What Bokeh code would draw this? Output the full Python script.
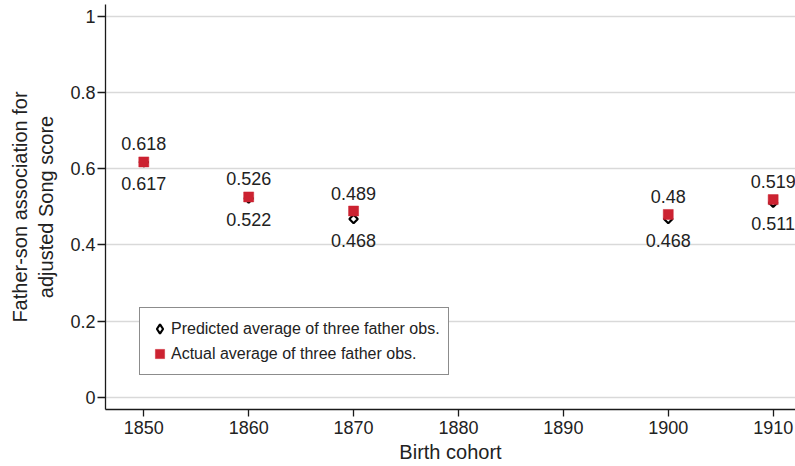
from bokeh.plotting import figure
from bokeh.models import (Range1d, FixedTicker, CustomJSTickFormatter, ColumnDataSource,
                          LegendItem, Legend)
from bokeh.core.properties import value
from bokeh.embed import file_html
from bokeh.resources import INLINE
import math

years = [1850, 1860, 1870, 1900, 1910]
predicted = [0.617, 0.522, 0.468, 0.468, 0.511]
actual = [0.618, 0.526, 0.489, 0.48, 0.519]
predicted_labels = ["0.617", "0.522", "0.468", "0.468", "0.511"]
actual_labels = ["0.618", "0.526", "0.489", "0.48", "0.519"]
x_ticks = [1850, 1860, 1870, 1880, 1890, 1900, 1910]
y_ticks = [0, 0.2, 0.4, 0.6, 0.8, 1]

FONT = "Liberation Sans"
TXT = "#222222"
RED = "#cc2231"

src = ColumnDataSource(dict(x=years, p=predicted, a=actual, pl=predicted_labels, al=actual_labels))

p = figure(width=795, height=466, output_backend="svg", toolbar_location=None,
           x_range=Range1d(1846.35, 1912.13), y_range=Range1d(-0.0323, 1.0315),
           min_border_left=105, min_border_right=0, min_border_top=4, min_border_bottom=57)
p.outline_line_color = None
p.background_fill_color = "white"

p.xgrid.visible = False
p.ygrid.grid_line_color = "#d9d9d9"
p.ygrid.grid_line_width = 1.5

p.xaxis.ticker = FixedTicker(ticks=x_ticks)
p.yaxis.ticker = FixedTicker(ticks=y_ticks)
p.yaxis.formatter = CustomJSTickFormatter(code="return String(Math.round(tick*10)/10);")
for ax in (p.xaxis[0], p.yaxis[0]):
    ax.axis_line_color = "#1a1a1a"
    ax.axis_line_width = 1.3
    ax.major_tick_line_color = "#1a1a1a"
    ax.major_tick_line_width = 1.3
    ax.major_tick_in = 0
    ax.minor_tick_line_color = None
    ax.major_label_text_font = FONT
    ax.major_label_text_font_size = "18px"
    ax.major_label_text_color = TXT
    ax.axis_label_text_font = FONT
    ax.axis_label_text_font_size = "20px"
    ax.axis_label_text_font_style = "normal"
    ax.axis_label_text_color = TXT
p.xaxis.major_tick_out = 7
p.yaxis.major_tick_out = 8
p.xaxis.major_label_standoff = 4
p.yaxis.major_label_standoff = 2
p.xaxis.axis_label = "Birth cohort"
p.yaxis.axis_label = "Father-son association for\nadjusted Song score"
p.xaxis.axis_label_standoff = 4
p.yaxis.axis_label_standoff = 10

# legend key for the predicted series (legend keys ignore marker rotation), not drawn in plot
r_key = p.scatter("x", "p", source=src, marker="diamond", size=9,
                  line_color="black", line_width=2.2, fill_color="white", visible=False)

# data marks
p.scatter("x", "p", source=src, marker="square", angle=math.pi / 4, size=6,
          line_color="black", line_width=2.2, fill_color="white")
r_act = p.scatter("x", "a", source=src, marker="square", size=10,
                  line_color=RED, fill_color=RED, line_width=0.5)

p.text("x", "a", text="al", source=src, text_align="center", text_baseline="middle",
       y_offset=-18, text_font=value(FONT), text_font_size="18px", text_color=TXT)
p.text("x", "p", text="pl", source=src, text_align="center", text_baseline="middle",
       y_offset=21, text_font=value(FONT), text_font_size="18px", text_color=TXT)

lg = Legend(items=[
    LegendItem(label="Predicted average of three father obs.", renderers=[r_key]),
    LegendItem(label="Actual average of three father obs.", renderers=[r_act]),
])
p.add_layout(lg, "center")
lg.location = (34, 34)
lg.margin = 0
lg.padding = 8
lg.spacing = -3
lg.glyph_width = 23
lg.glyph_height = 25
lg.label_height = 18
lg.label_standoff = 0
lg.label_text_font = FONT
lg.label_text_font_size = "16px"
lg.label_text_color = TXT
lg.border_line_color = "#1a1a1a"
lg.border_line_width = 1
lg.background_fill_alpha = 1
lg.inactive_fill_alpha = 0

open("out.html", "w").write(file_html(p, INLINE))
